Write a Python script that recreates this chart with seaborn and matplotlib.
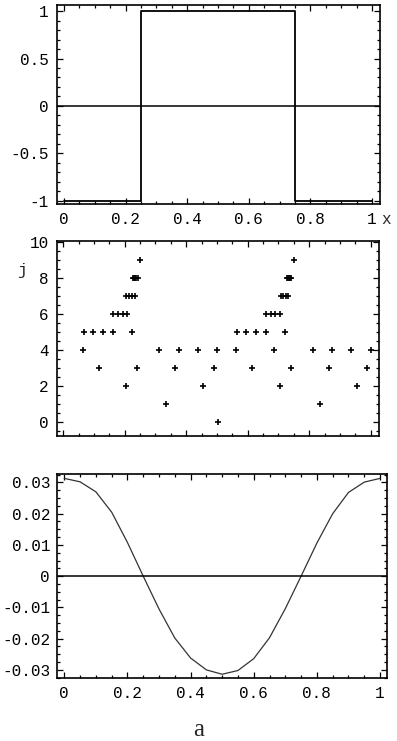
"""Square wave, wavelet coefficient levels and the smooth residual, three stacked panels."""

import matplotlib
matplotlib.use("Agg")
import matplotlib.pyplot as plt
import numpy as np
import pandas as pd
import seaborn as sns
from matplotlib.ticker import MultipleLocator, FixedLocator

# Top: square wave, breakpoints and levels (drawn as steps-post).
wave_x = [0.0, 0.25, 0.75, 1.0]
wave_y = [-1.0, 1.0, -1.0, -1.0]

# Middle: positions of the marked coefficients for each level j.
pos_j0 = [0.504]
pos_j1 = [0.335, 0.836]
pos_j2 = [0.203, 0.455, 0.704, 0.955]
pos_j3 = [0.115, 0.239, 0.365, 0.490, 0.614, 0.742, 0.866, 0.989]
pos_j4 = [0.063, 0.311, 0.376, 0.439, 0.500, 0.563, 0.686, 0.814, 0.874, 0.936, 1.000]
pos_j5 = [0.068, 0.098, 0.128, 0.162, 0.223, 0.565, 0.596, 0.626, 0.659, 0.720]
pos_j6 = [0.162, 0.178, 0.194, 0.209, 0.659, 0.675, 0.690, 0.705]
pos_j7 = [0.205, 0.214, 0.223, 0.232, 0.708, 0.716, 0.724, 0.732]
pos_j8 = [0.227, 0.231, 0.235, 0.238, 0.242, 0.727, 0.731, 0.735, 0.738, 0.742]
pos_j9 = [0.251, 0.749]
levels = [pos_j0, pos_j1, pos_j2, pos_j3, pos_j4, pos_j5, pos_j6, pos_j7, pos_j8, pos_j9]

# Bottom: residual curve.
curve_x = [0.00, 0.05, 0.10, 0.15, 0.20, 0.25, 0.30, 0.35, 0.40, 0.45, 0.50,
           0.55, 0.60, 0.65, 0.70, 0.75, 0.80, 0.85, 0.90, 0.95, 1.00]
curve_y = [0.0313, 0.0302, 0.0270, 0.0205, 0.0108, 0.0000, -0.0105, -0.0198, -0.0262,
           -0.0300, -0.0314, -0.0302, -0.0264, -0.0197, -0.0104, 0.0000, 0.0106, 0.0200,
           0.0268, 0.0301, 0.0313]

TICK_FONT = ["Liberation Mono", "DejaVu Sans Mono"]
FS = 11.5

sns.set_theme(style="ticks")
plt.rcParams["font.family"] = TICK_FONT
plt.rcParams["font.size"] = FS

fig = plt.figure(figsize=(3.97, 7.41), dpi=100)
ax1 = fig.add_axes([57 / 397, 537 / 741, 323 / 397, 199 / 741])
ax2 = fig.add_axes([57 / 397, 305 / 741, 322 / 397, 195 / 741])
ax3 = fig.add_axes([57 / 397, 63 / 741, 330 / 397, 204 / 741])


def frame(ax, ypad=6):
    """Mathematica-like frame: inward ticks on every side."""
    for s in ax.spines.values():
        s.set_linewidth(1.2)
        s.set_color("black")
    ax.tick_params(which="both", direction="in", top=True, right=True,
                   labeltop=False, labelright=False, colors="black",
                   labelsize=FS, width=0.9)
    ax.tick_params(which="major", length=4)
    ax.tick_params(which="minor", length=2)
    ax.tick_params(axis="x", which="major", pad=6)
    ax.tick_params(axis="y", which="major", pad=ypad)
    ax.set_facecolor("white")
    ax.set_xlabel("")
    ax.set_ylabel("")


# Top panel.
sns.lineplot(x=wave_x, y=wave_y, ax=ax1, color="black", lw=1.3,
             drawstyle="steps-post", estimator=None, sort=False)
ax1.axhline(0, color="black", lw=1.1)
ax1.set_xlim(-0.023, 1.026)
ax1.set_ylim(-1.035, 1.065)
ax1.xaxis.set_major_locator(FixedLocator([0, 0.2, 0.4, 0.6, 0.8, 1]))
ax1.set_xticklabels(["0", "0.2", "0.4", "0.6", "0.8", "1"])
ax1.xaxis.set_minor_locator(MultipleLocator(0.05))
ax1.yaxis.set_major_locator(FixedLocator([-1, -0.5, 0, 0.5, 1]))
ax1.set_yticklabels(["-1", "-0.5", "0", "0.5", "1"])
ax1.yaxis.set_minor_locator(MultipleLocator(0.1))
frame(ax1)

# Middle panel.
pts = pd.DataFrame({
    "x": [x for lv in levels for x in lv],
    "j": [j for j, lv in enumerate(levels) for _ in lv],
})
sns.scatterplot(data=pts, x="x", y="j", ax=ax2, marker="+", s=16,
                color="black", linewidth=1.2)
ax2.set_xlim(-0.02, 1.027)
ax2.set_ylim(-0.78, 10.06)
ax2.xaxis.set_major_locator(FixedLocator([0, 0.2, 0.4, 0.6, 0.8, 1]))
ax2.xaxis.set_minor_locator(MultipleLocator(0.05))
ax2.yaxis.set_major_locator(FixedLocator([0, 2, 4, 6, 8, 10]))
ax2.yaxis.set_minor_locator(MultipleLocator(0.5))
frame(ax2)
ax2.tick_params(labelbottom=False)

# Bottom panel.
sns.lineplot(x=curve_x, y=curve_y, ax=ax3, color="#333333", lw=0.9,
             estimator=None, sort=False)
ax3.axhline(0, color="black", lw=1.1)
ax3.set_xlim(-0.023, 1.022)
ax3.set_ylim(-0.0326, 0.0327)
ax3.xaxis.set_major_locator(FixedLocator([0, 0.2, 0.4, 0.6, 0.8, 1]))
ax3.set_xticklabels(["0", "0.2", "0.4", "0.6", "0.8", "1"])
ax3.xaxis.set_minor_locator(MultipleLocator(0.05))
ax3.yaxis.set_major_locator(FixedLocator([-0.03, -0.02, -0.01, 0, 0.01, 0.02, 0.03]))
ax3.set_yticklabels(["-0.03", "-0.02", "-0.01", "0", "0.01", "0.02", "0.03"])
ax3.yaxis.set_minor_locator(MultipleLocator(0.0025))
frame(ax3, ypad=5)

# Axis names and caption.
fig.text(386 / 397, 1 - 219 / 741, "x", ha="center", va="center", fontsize=FS)
fig.text(22 / 397, 1 - 270 / 741, "j", ha="center", va="center", fontsize=FS)
fig.text(199 / 397, 1 - 730 / 741, "a", ha="center", va="center", fontsize=18,
         family=["Liberation Serif", "DejaVu Serif"])

fig.savefig("out.png", dpi=100, facecolor="white")
